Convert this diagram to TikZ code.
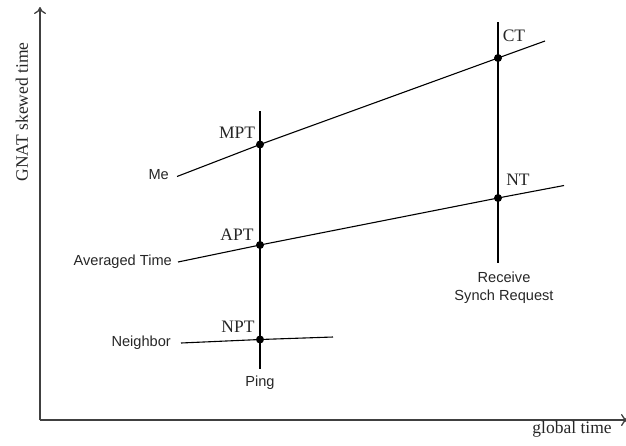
\documentclass[tikz,border=0pt]{standalone}
\usepackage{fontspec}
\setmainfont{Liberation Serif}
\newfontfamily\arialfont{Liberation Sans}
\usetikzlibrary{arrows.meta}
\begin{document}
\begin{tikzpicture}[x=1pt,y=-1pt,
  serlab/.style={font=\fontsize{17.5}{19}\selectfont, text=black!85, inner sep=0pt},
  sanlab/.style={font=\arialfont\fontsize{14.6}{18}\selectfont, text=black!85, inner sep=0pt, align=center},
  axisline/.style={line width=1.3pt, draw=black!75},
  timeline/.style={line width=1.1pt, draw=black},
  vline/.style={line width=1.4pt, draw=black},
  evdot/.style={circle, fill=black, minimum size=8pt, inner sep=0pt}]
\useasboundingbox (0,0) rectangle (626,445);
% axes
\coordinate (O) at (40,420);
\coordinate (Ytop) at (40,7);
\coordinate (Xend) at (628,420);
\draw[axisline, -{To[length=7pt,width=12pt]}] (O) -- (Ytop);
\draw[axisline, -{To[length=7pt,width=12pt]}] (O) -- (Xend);
\node[serlab, rotate=90] (ylab) at (22,112) {GNAT skewed time};
\node[serlab] (xlab) at (572,429) {global time};
% vertical event lines
\coordinate (PingTop) at (260,111);
\coordinate (PingBot) at (260,369);
\coordinate (RecTop) at (498,22);
\coordinate (RecBot) at (498,263);
\draw[vline] (PingTop) -- (PingBot);
\draw[vline] (RecTop) -- (RecBot);
% dots
\node[evdot] (MPT) at (260,144.5) {};
\node[evdot] (CT) at (498,58) {};
\node[evdot] (APT) at (260,245) {};
\node[evdot] (NT) at (498,198) {};
\node[evdot] (NPT) at (260,339.5) {};
% line ends
\coordinate (MeS) at (177,176.5);
\coordinate (MeE) at (545,41);
\coordinate (AvS) at (178,262);
\coordinate (AvE) at (564,185.5);
\coordinate (NbS) at (181,343);
\coordinate (NbE) at (333,337);
\draw[timeline] (MeS) -- (MPT.center) -- (CT.center) -- (MeE);
\draw[timeline] (AvS) -- (APT.center) -- (NT.center) -- (AvE);
\draw[timeline] (NbS) -- (NPT.center) -- (NbE);
% labels
\node[sanlab, anchor=east] (me) at (169,175) {Me};
\node[sanlab, anchor=east] (avg) at (172,262) {Averaged Time};
\node[sanlab, anchor=east] (nb) at (171,343) {Neighbor};
\node[sanlab] (ping) at (260,383) {Ping};
\node[sanlab] (rec) at (504,288) {Receive\\Synch Request};
\node[serlab] (mptl) at (237,133) {MPT};
\node[serlab] (aptl) at (237,235) {APT};
\node[serlab] (npt) at (238,327) {NPT};
\node[serlab] (ctl) at (514,36) {CT};
\node[serlab] (ntl) at (518,180) {NT};
\end{tikzpicture}
\end{document}
